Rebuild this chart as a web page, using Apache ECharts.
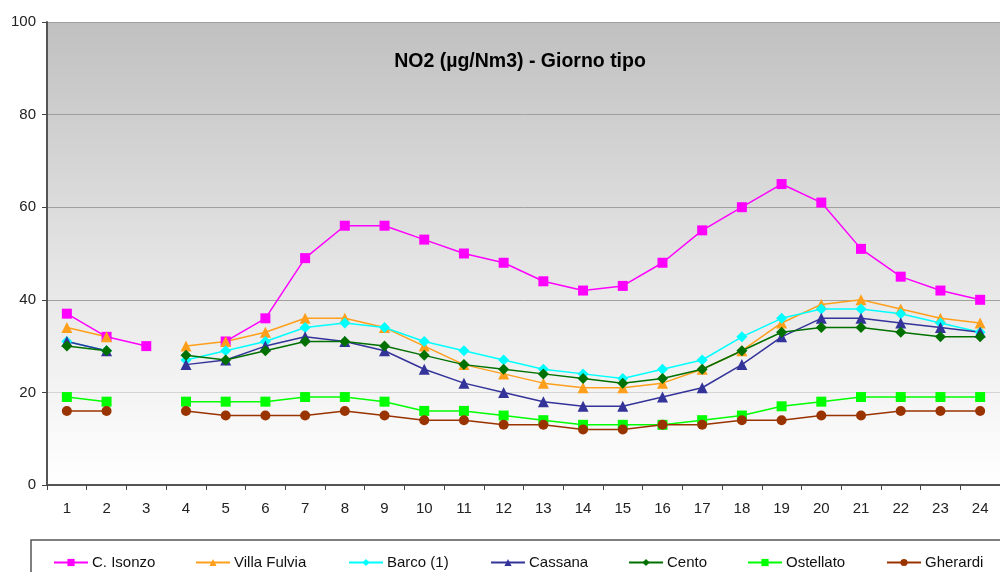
<!DOCTYPE html>
<html>
<head>
<meta charset="utf-8">
<title>NO2 - Giorno tipo</title>
<script src="https://cdn.jsdelivr.net/npm/echarts@6/dist/echarts.min.js"></script>
<style>
  html, body { margin: 0; padding: 0; background: #ffffff; }
  #chart { width: 1000px; height: 572px; }
</style>
</head>
<body>
<div id="chart"></div>
<script>
// Hours of the typical day
const hours = ['1','2','3','4','5','6','7','8','9','10','11','12','13','14','15','16','17','18','19','20','21','22','23','24'];

// Hourly mean NO2 (µg/Nm3) per monitoring station; null = no data
const cIsonzo    = [37, 32, 30, null, 31, 36, 49, 56, 56, 53, 50, 48, 44, 42, 43, 48, 55, 60, 65, 61, 51, 45, 42, 40];
const villaFulvia = [34, 32, null, 30, 31, 33, 36, 36, 34, 30, 26, 24, 22, 21, 21, 22, 25, 29, 35, 39, 40, 38, 36, 35];
const barco      = [31, 29, null, 27, 29, 31, 34, 35, 34, 31, 29, 27, 25, 24, 23, 25, 27, 32, 36, 38, 38, 37, 35, 33];
const cassana    = [31, 29, null, 26, 27, 30, 32, 31, 29, 25, 22, 20, 18, 17, 17, 19, 21, 26, 32, 36, 36, 35, 34, 33];
const cento      = [30, 29, null, 28, 27, 29, 31, 31, 30, 28, 26, 25, 24, 23, 22, 23, 25, 29, 33, 34, 34, 33, 32, 32];
const ostellato  = [19, 18, null, 18, 18, 18, 19, 19, 18, 16, 16, 15, 14, 13, 13, 13, 14, 15, 17, 18, 19, 19, 19, 19];
const gherardi   = [16, 16, null, 16, 15, 15, 15, 16, 15, 14, 14, 13, 13, 12, 12, 13, 13, 14, 14, 15, 15, 16, 16, 16];

const stations = [
  { name: 'C. Isonzo',    data: cIsonzo,     color: '#ff00ff', symbol: 'rect',     size: 10, legendX: 53 },
  { name: 'Villa Fulvia', data: villaFulvia, color: '#ff9f1c', symbol: 'triangle', size: 11, legendX: 195 },
  { name: 'Barco (1)',    data: barco,       color: '#00ffff', symbol: 'diamond',  size: 11, legendX: 348 },
  { name: 'Cassana',      data: cassana,     color: '#333399', symbol: 'triangle', size: 11, legendX: 490 },
  { name: 'Cento',        data: cento,       color: '#007000', symbol: 'diamond',  size: 11, legendX: 628 },
  { name: 'Ostellato',    data: ostellato,   color: '#00ff00', symbol: 'rect',     size: 10, legendX: 747 },
  { name: 'Gherardi',     data: gherardi,    color: '#993300', symbol: 'circle',   size: 10, legendX: 886 }
];

const FONT = 'Liberation Sans, Arial, sans-serif';

const chart = echarts.init(document.getElementById('chart'), null, { renderer: 'canvas' });

const option = {
  animation: false,
  backgroundColor: '#ffffff',
  title: {
    text: 'NO2 (\u00b5g/Nm3) - Giorno tipo',
    left: 520,
    textAlign: 'center',
    top: 52,
    padding: 0,
    textStyle: { fontFamily: FONT, fontSize: 19.5, fontWeight: 'bold', color: '#000' }
  },
  grid: {
    left: 47,
    top: 22,
    width: 963,
    height: 463,
    show: true,
    borderWidth: 0,
    backgroundColor: new echarts.graphic.LinearGradient(0, 0, 0, 1, [
      { offset: 0, color: '#c0c0c0' },
      { offset: 0.55, color: '#e6e6e6' },
      { offset: 1, color: '#ffffff' }
    ])
  },
  graphic: [
    {
      type: 'rect',
      z: 0,
      shape: { x: 31, y: 540, width: 1000, height: 60 },
      style: { fill: '#ffffff', stroke: '#555555', lineWidth: 1.5 }
    }
  ],
  legend: stations.map(s => ({
    left: s.legendX,
    top: 555,
    padding: 0,
    data: [s.name],
    itemWidth: 34,
    itemHeight: 9,
    itemGap: 0,
    textStyle: { fontFamily: FONT, fontSize: 15, color: '#111', padding: [0, 0, 0, -1] },
    selectedMode: false
  })),
  xAxis: {
    type: 'category',
    data: hours,
    boundaryGap: true,
    axisLine: { show: true, lineStyle: { color: '#555', width: 2 } },
    axisTick: { show: true, alignWithLabel: false, length: 5, lineStyle: { color: '#444', width: 1 } },
    axisLabel: { margin: 16, fontFamily: FONT, fontSize: 15, color: '#222', interval: 0 },
    splitLine: { show: false }
  },
  yAxis: {
    type: 'value',
    min: 0,
    max: 100,
    interval: 20,
    axisLine: { show: true, lineStyle: { color: '#555', width: 2 } },
    axisTick: { show: true, length: 5, lineStyle: { color: '#444', width: 1 } },
    axisLabel: { margin: 11, fontFamily: FONT, fontSize: 15, color: '#222' },
    splitLine: {
      show: true,
      lineStyle: { color: ['#999999', '#d4d4d4', '#a0a0a0', '#a0a0a0', '#a0a0a0', '#a0a0a0'], width: 1 }
    }
  },
  series: stations.map(s => ({
    name: s.name,
    type: 'line',
    data: s.data,
    connectNulls: false,
    symbol: s.symbol,
    symbolSize: s.size,
    showAllSymbol: true,
    lineStyle: { color: s.color, width: 1.5 },
    itemStyle: { color: s.color, borderWidth: 0 },
    emphasis: { disabled: true }
  }))
};

chart.setOption(option);
</script>
</body>
</html>
